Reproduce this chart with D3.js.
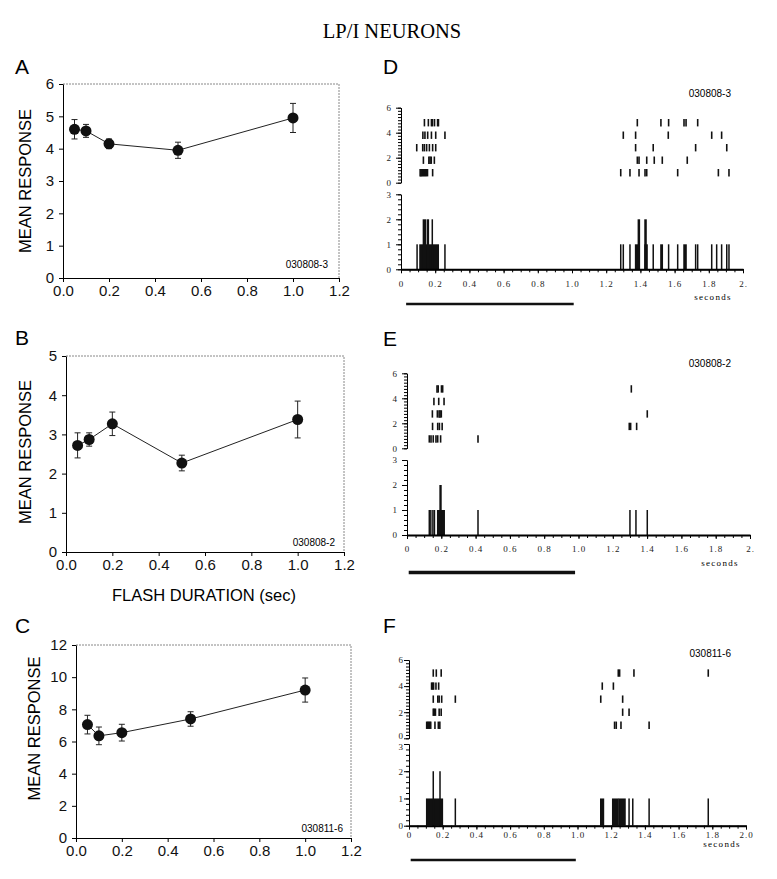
<!DOCTYPE html>
<html>
<head>
<meta charset="utf-8">
<script src="https://cdn.jsdelivr.net/npm/d3@7.9.0/dist/d3.min.js"></script>
<style>
  body { margin: 0; background: #fff; }
  svg { display: block; }
</style>
</head>
<body>
<script>
// ---- data: flash duration tuning (panels A-C) ----
const durations = [0.05, 0.1, 0.2, 0.5, 1.0];
const meanA = [4.6, 4.55, 4.15, 3.95, 4.95];
const semA = [0.3, 0.2, 0.15, 0.25, 0.45];
const meanB = [2.72, 2.87, 3.27, 2.27, 3.38];
const semB = [0.32, 0.17, 0.3, 0.2, 0.47];
const meanC = [7.05, 6.35, 6.55, 7.4, 9.2];
const semC = [0.58, 0.55, 0.52, 0.45, 0.75];
const durationTicks = [0, 0.2, 0.4, 0.6, 0.8, 1.0, 1.2];
const yTicksA = [0, 1, 2, 3, 4, 5, 6];
const yTicksB = [0, 1, 2, 3, 4, 5];
const yTicksC = [0, 2, 4, 6, 8, 10, 12];

// ---- data: rasters (5 trials each, spike times in s) and PSTH bins [t0, t1, count] ----
const trialsD = [
  [0.112, 0.118, 0.124, 0.130, 0.136, 0.142, 0.148, 0.155, 0.185, 1.285, 1.339, 1.392, 1.427, 1.437, 1.618, 1.856, 1.918],
  [0.131, 0.163, 0.170, 0.177, 0.195, 1.382, 1.392, 1.437, 1.481, 1.528, 1.674],
  [0.092, 0.127, 0.137, 0.150, 0.166, 0.185, 0.203, 1.372, 1.475, 1.723, 1.905],
  [0.128, 0.140, 0.156, 0.178, 0.203, 0.257, 1.300, 1.372, 1.563, 1.817, 1.875],
  [0.137, 0.160, 0.178, 0.184, 0.196, 0.214, 0.219, 1.382, 1.520, 1.565, 1.655, 1.667, 1.735]
];
const psthD = [
  [0.094, 0.094, 1], [0.111, 0.218, 1], [0.131, 0.144, 2], [0.156, 0.160, 2], [0.183, 0.183, 2], [0.257, 0.257, 1],
  [1.285, 1.285, 1], [1.300, 1.300, 1], [1.339, 1.339, 1], [1.372, 1.392, 1], [1.388, 1.394, 2],
  [1.427, 1.439, 1], [1.427, 1.433, 2], [1.475, 1.475, 1], [1.520, 1.528, 1], [1.565, 1.565, 1],
  [1.618, 1.618, 1], [1.655, 1.667, 1], [1.723, 1.723, 1], [1.735, 1.735, 1], [1.817, 1.817, 1],
  [1.846, 1.846, 1], [1.875, 1.875, 1], [1.905, 1.905, 1], [1.918, 1.918, 1]
];
const trialsE = [
  [0.130, 0.140, 0.153, 0.169, 0.179, 0.196, 0.414],
  [0.149, 0.179, 0.189, 0.205, 1.296, 1.304, 1.339],
  [0.148, 0.177, 0.187, 0.193, 0.200, 1.401],
  [0.157, 0.185, 0.216],
  [0.175, 0.182, 0.201, 0.208, 1.308]
];
const psthE = [
  [0.130, 0.130, 1], [0.139, 0.139, 1], [0.151, 0.151, 1], [0.160, 0.160, 1], [0.179, 0.217, 1],
  [0.193, 0.198, 2], [0.414, 0.414, 1], [1.300, 1.300, 1], [1.335, 1.335, 1], [1.401, 1.401, 1]
];
const trialsF = [
  [0.105, 0.111, 0.117, 0.123, 0.129, 0.154, 0.174, 0.183, 1.220, 1.230, 1.258, 1.425],
  [0.144, 0.150, 0.157, 0.179, 0.191, 1.268, 1.306],
  [0.144, 0.171, 0.179, 0.194, 0.275, 1.138, 1.268],
  [0.134, 0.140, 0.146, 0.160, 0.176, 1.147, 1.213],
  [0.144, 0.162, 0.191, 1.242, 1.250, 1.335, 1.776]
];
const psthF = [
  [0.105, 0.198, 1], [0.144, 0.144, 2], [0.184, 0.184, 2], [0.275, 0.275, 1], [1.138, 1.154, 1],
  [1.209, 1.239, 1], [1.246, 1.282, 1], [1.306, 1.306, 1], [1.328, 1.328, 1], [1.425, 1.425, 1], [1.776, 1.776, 1]
];
const stimD = [0.03, 1.01];
const stimE = [0.01, 0.98];
const stimF = [0.01, 0.99];
const timeTicks = [0, 0.2, 0.4, 0.6, 0.8, 1.0, 1.2, 1.4, 1.6, 1.8, 2.0];
const timeLabelsDE = ["0", "0.2", "0.4", "0.6", "0.8", "1.0", "1.2", "1.4", "1.6", "1.8", "2."];
const timeLabelsF = ["0", "0.2", "0.4", "0.6", "0.8", "1.0", "1.2", "1.4", "1.6", "1.8", "2.0"];
const rasterTicks = [0, 2, 4, 6];
const psthTicks = [0, 1, 2, 3];

const SANS = "'Liberation Sans', Arial, sans-serif";
const SERIF = "'Liberation Serif', 'Times New Roman', serif";

const svg = d3.select("body").append("svg")
  .attr("width", 777)
  .attr("height", 879);

svg.append("text")
  .attr("x", 392).attr("y", 38)
  .attr("text-anchor", "middle")
  .style("font-family", SERIF).style("font-size", "20.5px")
  .text("LP/I NEURONS");

// panel letter helper
function letter(txt, x, y) {
  svg.append("text").attr("x", x).attr("y", y)
    .style("font-family", SANS).style("font-size", "21px")
    .text(txt);
}

// Tuning curve panel (A, B, C)
function drawTuning(p) {
  const x = d3.scaleLinear().domain([0, 1.2]).range([p.left, p.right]);
  const y = d3.scaleLinear().domain([0, p.ymax]).range([p.bottom, p.top]);
  const g = svg.append("g");

  // light dotted frame on top/right
  g.append("path")
    .attr("d", `M${p.left},${p.top}H${p.right}V${p.bottom}`)
    .attr("fill", "none").attr("stroke", "#888")
    .attr("stroke-dasharray", "2,1");

  const yAx = g.append("g").attr("transform", `translate(${p.left},0)`)
    .call(d3.axisLeft(y).tickValues(p.yticks).tickSize(4).tickSizeOuter(0).tickPadding(5).tickFormat(d3.format("d")));
  const xAx = g.append("g").attr("transform", `translate(0,${p.bottom})`)
    .call(d3.axisBottom(x).tickValues(durationTicks).tickSize(4).tickSizeOuter(0).tickPadding(3).tickFormat(d3.format(".1f")));
  [yAx, xAx].forEach(a => a.selectAll("text").style("font-family", SANS).style("font-size", "15px").attr("fill", "#111"));

  const pts = durations.map((d, i) => ({ x: d, m: p.mean[i], s: p.sem[i] }));

  g.append("path").datum(pts)
    .attr("fill", "none").attr("stroke", "#222").attr("stroke-width", 1)
    .attr("d", d3.line().x(d => x(d.x)).y(d => y(d.m)));

  const eb = g.selectAll(".eb").data(pts).enter().append("g").attr("stroke", "#222").attr("stroke-width", 1);
  eb.append("line").attr("x1", d => x(d.x)).attr("x2", d => x(d.x)).attr("y1", d => y(d.m - d.s)).attr("y2", d => y(d.m + d.s));
  eb.append("line").attr("x1", d => x(d.x) - 3).attr("x2", d => x(d.x) + 3).attr("y1", d => y(d.m + d.s)).attr("y2", d => y(d.m + d.s));
  eb.append("line").attr("x1", d => x(d.x) - 3).attr("x2", d => x(d.x) + 3).attr("y1", d => y(d.m - d.s)).attr("y2", d => y(d.m - d.s));

  g.selectAll("circle").data(pts).enter().append("circle")
    .attr("cx", d => x(d.x)).attr("cy", d => y(d.m)).attr("r", 5.5)
    .attr("fill", "#111");

  g.append("text").attr("x", p.cellX).attr("y", p.cellY)
    .attr("text-anchor", "end")
    .style("font-family", SANS).style("font-size", "10px")
    .text(p.cell);

  g.append("text")
    .attr("transform", `translate(${p.labelX},${(p.top + p.bottom) / 2 + p.labelDy}) rotate(-90)`)
    .attr("text-anchor", "middle").attr("dy", "0.35em")
    .style("font-family", SANS).style("font-size", "16.5px")
    .text("MEAN RESPONSE");
}

// Raster + PSTH panel (D, E, F)
function drawRaster(p) {
  const x = d3.scaleLinear().domain([0, 2]).range([p.left, p.right]);
  const yr = d3.scaleLinear().domain([0, 6]).range([p.rBottom, p.rTop]);
  const yh = d3.scaleLinear().domain([0, 3]).range([p.hBottom, p.hTop]);
  const g = svg.append("g");

  // spike rasters
  p.trials.forEach((spikes, i) => {
    const cy = yr(i + 1 - p.rowShift);
    g.selectAll(null).data(spikes).enter().append("line")
      .attr("x1", t => x(t)).attr("x2", t => x(t))
      .attr("y1", cy - 3.7).attr("y2", cy + 3.7)
      .attr("stroke", "#111").attr("stroke-width", 1.6);
  });

  // PSTH
  g.selectAll(".bin").data(p.psth).enter().append("rect")
    .attr("x", d => x(d[0]) - 0.75)
    .attr("width", d => x(d[1]) - x(d[0]) + 1.5)
    .attr("y", d => yh(d[2]))
    .attr("height", d => yh(0) - yh(d[2]))
    .attr("fill", "#111");

  const styleTicks = a => a.selectAll("text")
    .style("font-family", SERIF).style("font-size", "9px").attr("fill", "#222");

  // raster y axis
  g.append("g").attr("transform", `translate(${p.left},0)`)
    .call(d3.axisLeft(yr).tickValues(d3.range(0, 6.01, 0.25)).tickSize(3).tickSizeOuter(0).tickFormat(""));
  const rMajor = g.append("g").attr("transform", `translate(${p.left},0)`)
    .call(d3.axisLeft(yr).tickValues(rasterTicks).tickSize(5).tickSizeOuter(0).tickPadding(p.yPad).tickFormat(d3.format("d")));
  styleTicks(rMajor);
  rMajor.selectAll("text").filter(d => d === 0).attr("dy", `${0.32 - p.zeroLift}em`);

  // PSTH y axis
  g.append("g").attr("transform", `translate(${p.left},0)`)
    .call(d3.axisLeft(yh).tickValues(d3.range(0, 3.01, 0.2)).tickSize(3).tickSizeOuter(0).tickFormat(""));
  const hMajor = g.append("g").attr("transform", `translate(${p.left},0)`)
    .call(d3.axisLeft(yh).tickValues(psthTicks).tickSize(5).tickSizeOuter(0).tickPadding(p.yPad).tickFormat(d3.format("d")));
  styleTicks(hMajor);
  hMajor.selectAll("text").filter(d => d === 3).attr("dy", `${0.32 + p.zeroLift}em`);

  // time axis
  const minor = g.append("g").attr("transform", `translate(0,${p.hBottom})`)
    .call(d3.axisBottom(x).tickValues(d3.range(0, 2.001, 0.05)).tickSize(3).tickSizeOuter(0).tickFormat(""));
  minor.select(".domain").attr("stroke-width", 2);
  const major = g.append("g").attr("transform", `translate(0,${p.hBottom})`)
    .call(d3.axisBottom(x).tickValues(timeTicks).tickSize(4).tickSizeOuter(0).tickPadding(p.xPad)
      .tickFormat((d, i) => p.labels[i]));
  styleTicks(major);
  major.selectAll("text").style("letter-spacing", "1px");

  g.append("text").attr("x", p.secX).attr("y", p.secY)
    .attr("text-anchor", "middle")
    .style("font-family", SERIF).style("font-size", "9px").style("letter-spacing", "1.3px")
    .text("seconds");

  // stimulus bar
  g.append("line")
    .attr("x1", x(p.stim[0])).attr("x2", x(p.stim[1]))
    .attr("y1", p.stimY).attr("y2", p.stimY)
    .attr("stroke", "#111").attr("stroke-width", p.stimW);

  g.append("text").attr("x", 731).attr("y", p.cellY)
    .attr("text-anchor", "end")
    .style("font-family", SANS).style("font-size", "10px")
    .text(p.cell);
}

letter("A", 15, 74);
letter("B", 15, 345);
letter("C", 15, 633);
letter("D", 383, 74);
letter("E", 383, 346);
letter("F", 383, 633);

drawTuning({ left: 63, right: 339, top: 84, bottom: 278, ymax: 6, yticks: yTicksA,
  mean: meanA, sem: semA, cell: "030808-3", cellX: 328, cellY: 267.5, labelX: 25.5, labelDy: 0 });
drawTuning({ left: 66, right: 344, top: 356, bottom: 552, ymax: 5, yticks: yTicksB,
  mean: meanB, sem: semB, cell: "030808-2", cellX: 335, cellY: 545.5, labelX: 25.5, labelDy: -2 });
drawTuning({ left: 76, right: 351, top: 645, bottom: 838, ymax: 12, yticks: yTicksC,
  mean: meanC, sem: semC, cell: "030811-6", cellX: 343, cellY: 831.5, labelX: 34, labelDy: -13 });

svg.append("text").attr("x", 204).attr("y", 601)
  .attr("text-anchor", "middle")
  .style("font-family", SANS).style("font-size", "16.5px")
  .text("FLASH DURATION (sec)");

drawRaster({ left: 401, right: 743, rTop: 107.7, rBottom: 182.7, hTop: 194.3, hBottom: 269.3,
  rowShift: 0.2, trials: trialsD, psth: psthD, labels: timeLabelsDE, yPad: 5, xPad: 7.5, zeroLift: 0,
  secX: 713, secY: 300, stim: stimD, stimY: 304, stimW: 2.5, cell: "030808-3", cellY: 96.5 });
drawRaster({ left: 407, right: 750, rTop: 373.3, rBottom: 448.3, hTop: 460, hBottom: 535,
  rowShift: 0.25, trials: trialsE, psth: psthE, labels: timeLabelsDE, yPad: 5, xPad: 6.5, zeroLift: 0,
  secX: 720, secY: 566, stim: stimE, stimY: 572.5, stimW: 3.5, cell: "030808-2", cellY: 367 });
drawRaster({ left: 409, right: 746, rTop: 660, rBottom: 738.3, hTop: 744, hBottom: 825.7,
  rowShift: 0, trials: trialsF, psth: psthF, labels: timeLabelsF, yPad: 1, xPad: 2, zeroLift: 0.3,
  secX: 722, secY: 847, stim: stimF, stimY: 860, stimW: 2.5, cell: "030811-6", cellY: 657 });
</script>
</body>
</html>
